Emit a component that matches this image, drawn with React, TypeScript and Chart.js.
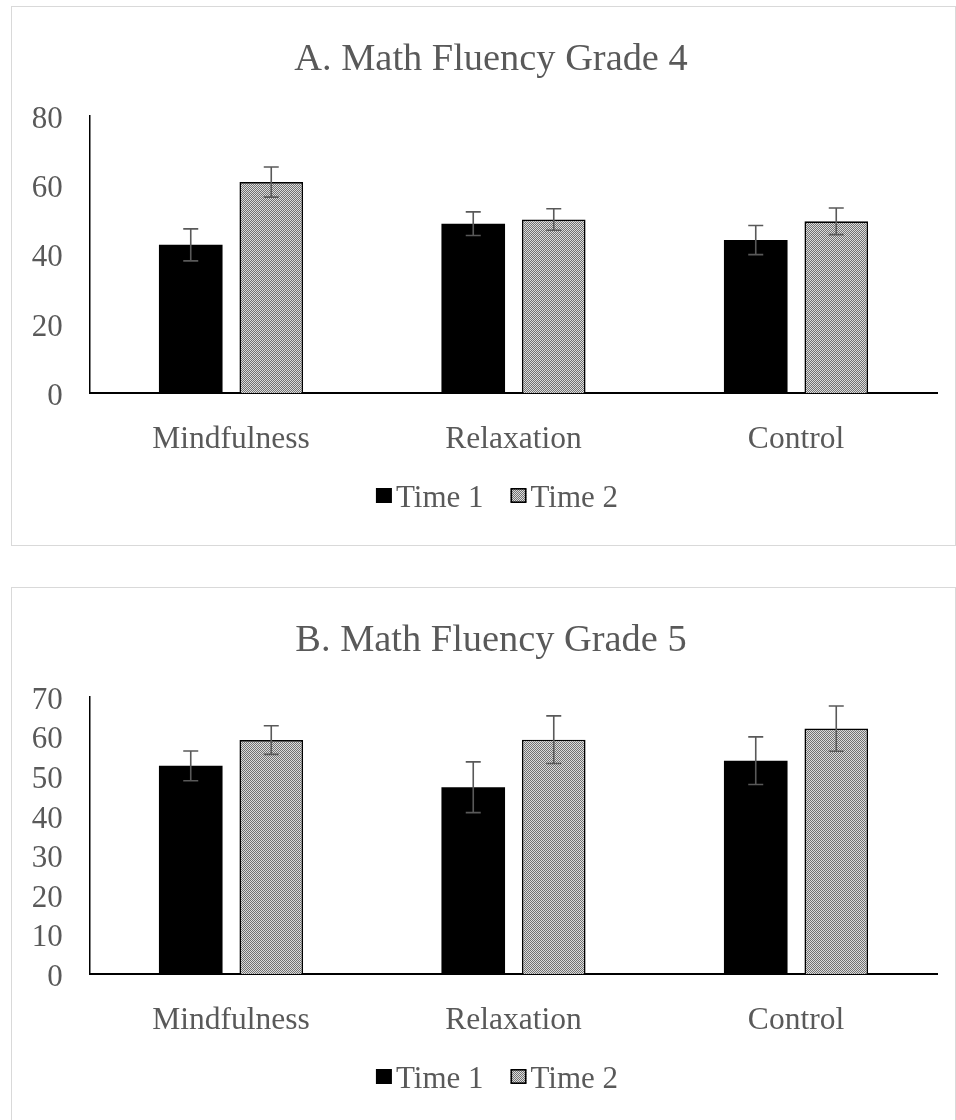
import React, { useEffect, useRef } from "react";
import { Chart, registerables } from "chart.js";

Chart.register(...registerables);

// ---------- data ----------
const categories = ["Mindfulness", "Relaxation", "Control"];
const seriesNames = ["Time 1", "Time 2"];

const titleA = "A. Math Fluency Grade 4";
const gradeA_time1 = [42.7, 48.8, 44.1];
const gradeA_time1Err = [4.6, 3.4, 4.2];
const gradeA_time2 = [60.8, 50.0, 49.5];
const gradeA_time2Err = [4.35, 3.1, 3.85];
const yTicksA = [0, 20, 40, 60, 80];

const titleB = "B. Math Fluency Grade 5";
const gradeB_time1 = [52.5, 47.1, 53.8];
const gradeB_time1Err = [3.75, 6.4, 6.0];
const gradeB_time2 = [59.0, 59.1, 61.9];
const gradeB_time2Err = [3.6, 6.0, 5.7];
const yTicksB = [0, 10, 20, 30, 40, 50, 60, 70];

// ---------- styling ----------
const FONT = "'Liberation Serif', 'Times New Roman', serif";
const TEXT = "#595959";

function makePattern(): CanvasPattern | string {
  const c = document.createElement("canvas");
  c.width = 2;
  c.height = 2;
  const g = c.getContext("2d");
  if (!g) return "#a5a5a5";
  g.fillStyle = "#dcdcdc";
  g.fillRect(0, 0, 2, 2);
  g.fillStyle = "#727272";
  g.fillRect(0, 0, 1, 1);
  g.fillRect(1, 1, 1, 1);
  const p = g.createPattern(c, "repeat");
  return p || "#a5a5a5";
}

const errorBarPlugin = {
  id: "errorBars",
  afterDatasetsDraw(chart: any) {
    const ctx = chart.ctx;
    const yScale = chart.scales.y;
    chart.data.datasets.forEach((ds: any, i: number) => {
      const meta = chart.getDatasetMeta(i);
      const errs: number[] = ds.errors || [];
      meta.data.forEach((bar: any, j: number) => {
        const v = ds.data[j];
        const e = errs[j];
        if (e == null) return;
        const top = yScale.getPixelForValue(v + e);
        const bot = yScale.getPixelForValue(v - e);
        const x = bar.x;
        ctx.save();
        ctx.strokeStyle = "#595959";
        ctx.lineWidth = 1.6;
        ctx.beginPath();
        ctx.moveTo(x, top);
        ctx.lineTo(x, bot);
        ctx.moveTo(x - 7.5, top);
        ctx.lineTo(x + 7.5, top);
        ctx.moveTo(x - 7.5, bot);
        ctx.lineTo(x + 7.5, bot);
        ctx.stroke();
        ctx.restore();
      });
    });
  },
};

// legend drawn from the datasets (label, fill, border)
const legendPlugin = {
  id: "customLegend",
  afterDraw(chart: any) {
    const o = chart.options.plugins.customLegend;
    if (!o) return;
    const ctx = chart.ctx;
    ctx.save();
    ctx.font = `${o.fontSize}px ${FONT}`;
    const items = chart.data.datasets.map((ds: any) => ({
      text: ds.label,
      fill: ds.backgroundColor,
      stroke: ds.borderColor,
      lw: ds.borderWidth,
      w: ctx.measureText(ds.label).width,
    }));
    const total =
      items.reduce((a: number, it: any) => a + o.boxW + o.boxGap + it.w, 0) +
      o.itemGap * (items.length - 1);
    let x = o.centerX - total / 2;
    items.forEach((it: any) => {
      ctx.fillStyle = it.fill;
      ctx.fillRect(x, o.boxTop, o.boxW, o.boxH);
      if (it.lw) {
        ctx.lineWidth = it.lw;
        ctx.strokeStyle = it.stroke;
        ctx.strokeRect(x + it.lw / 2, o.boxTop + it.lw / 2, o.boxW - it.lw, o.boxH - it.lw);
      }
      x += o.boxW + o.boxGap;
      ctx.fillStyle = TEXT;
      ctx.textAlign = "left";
      ctx.textBaseline = "middle";
      ctx.fillText(it.text, x, o.textY);
      x += it.w + o.itemGap;
    });
    ctx.restore();
  },
};

type Props = {
  title: string;
  t1: number[];
  t1Err: number[];
  t2: number[];
  t2Err: number[];
  yTicks: number[];
};

const CANVAS_W = 951;
const CANVAS_H = 538;

function ChartPanel({ title, t1, t1Err, t2, t2Err, yTicks }: Props) {
  const ref = useRef<HTMLCanvasElement | null>(null);

  useEffect(() => {
    if (!ref.current) return;
    const pattern = makePattern();
    const chart = new Chart(ref.current, {
      type: "bar",
      data: {
        labels: categories,
        datasets: [
          {
            label: seriesNames[0],
            data: t1,
            errors: t1Err,
            backgroundColor: "#000000",
            borderColor: "#000000",
            borderWidth: 0,
            categoryPercentage: 0.57,
            barPercentage: 0.79,
            yAxisID: "y",
          } as any,
          {
            label: seriesNames[1],
            data: t2,
            errors: t2Err,
            backgroundColor: pattern,
            borderColor: "#000000",
            borderWidth: 1.6,
            categoryPercentage: 0.57,
            barPercentage: 0.79,
            yAxisID: "y",
          } as any,
        ],
      },
      options: {
        responsive: false,
        animation: false,
        layout: { padding: { left: 7, right: 0, top: 0, bottom: 92 } },
        plugins: {
          title: {
            display: true,
            text: title,
            color: TEXT,
            font: { family: FONT, size: 38.4, weight: "normal" },
            padding: { top: 30, bottom: 32.4 },
          },
          legend: { display: false },
          tooltip: { enabled: false },
          customLegend: {
            fontSize: 31,
            centerX: 485,
            boxTop: 481,
            boxW: 16,
            boxH: 15,
            boxGap: 4,
            itemGap: 27,
            textY: 491.5,
          },
        },
        scales: {
          x: {
            grid: { display: false, drawTicks: false },
            border: { display: true, color: "#000000", width: 2 },
            ticks: { color: TEXT, font: { family: FONT, size: 31.5 }, padding: 27.4 },
            afterFit: (s: any) => {
              s.height = 60;
            },
          },
          y: {
            min: yTicks[0],
            max: yTicks[yTicks.length - 1],
            grid: { display: false, drawTicks: false },
            border: { display: true, color: "#000000", width: 1.5 },
            ticks: {
              stepSize: yTicks[1] - yTicks[0],
              autoSkip: false,
              color: TEXT,
              font: { family: FONT, size: 31 },
              padding: 27,
              labelOffset: 4,
            },
            afterFit: (s: any) => {
              s.width = 70.75;
            },
          },
          spacer: {
            type: "linear",
            position: "right",
            display: true,
            grid: { display: false, drawTicks: false },
            border: { display: false },
            ticks: { display: false },
            afterFit: (s: any) => {
              s.width = 25.75;
            },
          },
        },
      } as any,
      plugins: [errorBarPlugin, legendPlugin],
    });
    return () => chart.destroy();
  }, [title, t1, t1Err, t2, t2Err, yTicks]);

  return (
    <canvas
      ref={ref}
      width={CANVAS_W}
      height={CANVAS_H}
      style={{ position: "absolute", left: 0, top: 0, width: CANVAS_W, height: CANVAS_H }}
    />
  );
}

export default function App() {
  const boxStyle: React.CSSProperties = {
    position: "absolute",
    left: 11,
    width: 945,
    border: "1px solid #d9d9d9",
    boxSizing: "border-box",
    background: "#ffffff",
  };
  return (
    <div
      style={{
        position: "absolute",
        left: 0,
        top: 0,
        width: 956,
        height: 1120,
        overflow: "hidden",
        background: "#ffffff",
      }}
    >
      <div style={{ ...boxStyle, top: 6, height: 540 }}>
        <ChartPanel
          title={titleA}
          t1={gradeA_time1}
          t1Err={gradeA_time1Err}
          t2={gradeA_time2}
          t2Err={gradeA_time2Err}
          yTicks={yTicksA}
        />
      </div>
      <div style={{ ...boxStyle, top: 587, height: 560 }}>
        <ChartPanel
          title={titleB}
          t1={gradeB_time1}
          t1Err={gradeB_time1Err}
          t2={gradeB_time2}
          t2Err={gradeB_time2Err}
          yTicks={yTicksB}
        />
      </div>
    </div>
  );
}
